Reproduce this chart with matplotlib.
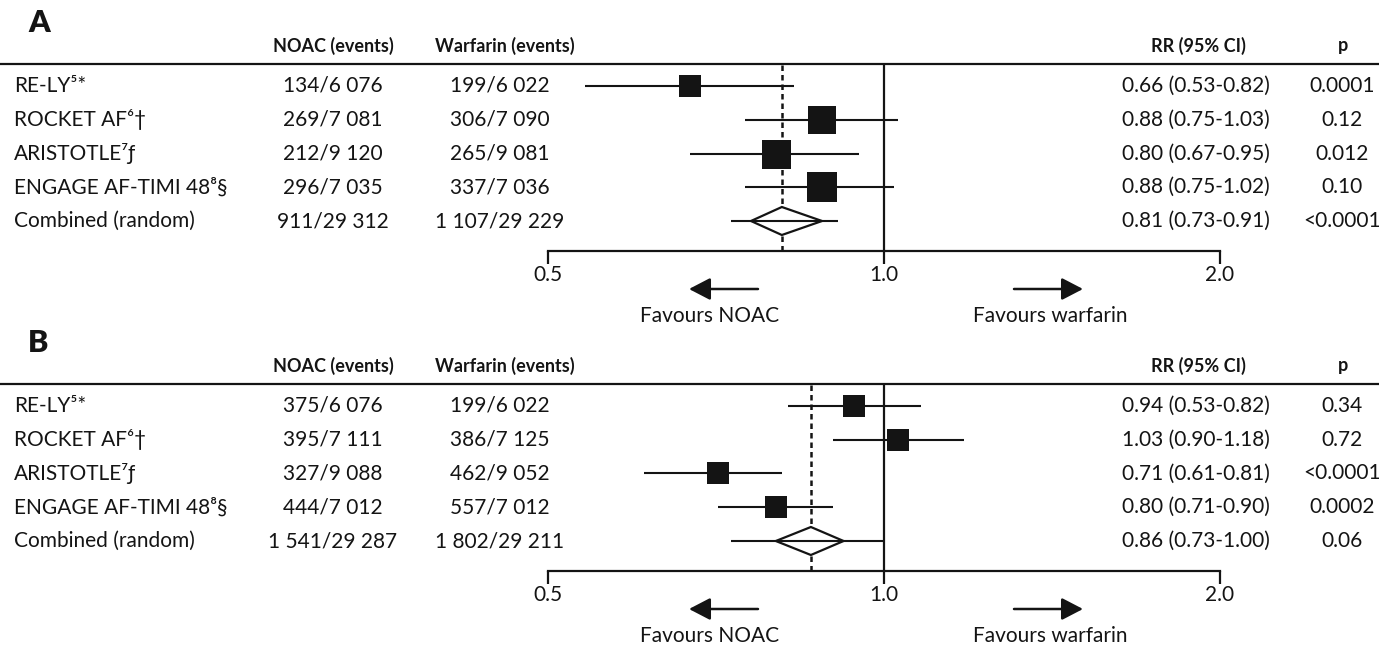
import matplotlib
matplotlib.use("Agg")
import numpy as np
import matplotlib.pyplot as plt
from matplotlib import transforms
from matplotlib.patches import Polygon, FancyArrowPatch
from matplotlib.lines import Line2D

# ---------------- data ----------------
studies = ["RE-LY\u2075*", "ROCKET AF\u2076\u2020", "ARISTOTLE\u2077\u0192",
           "ENGAGE AF-TIMI 48\u2078\u00a7", "Combined (random)"]

a_noac = ["134/6 076", "269/7 081", "212/9 120", "296/7 035", "911/29 312"]
a_warf = ["199/6 022", "306/7 090", "265/9 081", "337/7 036", "1 107/29 229"]
a_rr_text = ["0.66 (0.53-0.82)", "0.88 (0.75-1.03)", "0.80 (0.67-0.95)",
             "0.88 (0.75-1.02)", "0.81 (0.73-0.91)"]
a_p = ["0.0001", "0.12", "0.012", "0.10", "<0.0001"]
a_est = [0.67, 0.88, 0.80, 0.88, 0.81]
a_lo = [0.54, 0.75, 0.67, 0.75, 0.73]
a_hi = [0.83, 1.03, 0.95, 1.02, 0.91]
a_diamond = [0.76, 0.88]

b_noac = ["375/6 076", "395/7 111", "327/9 088", "444/7 012", "1 541/29 287"]
b_warf = ["199/6 022", "386/7 125", "462/9 052", "557/7 012", "1 802/29 211"]
b_rr_text = ["0.94 (0.53-0.82)", "1.03 (0.90-1.18)", "0.71 (0.61-0.81)",
             "0.80 (0.71-0.90)", "0.86 (0.73-1.00)"]
b_p = ["0.34", "0.72", "<0.0001", "0.0002", "0.06"]
b_est = [0.94, 1.03, 0.71, 0.80, 0.86]
b_lo = [0.82, 0.90, 0.61, 0.71, 0.73]
b_hi = [1.08, 1.18, 0.81, 0.90, 1.00]
b_diamond = [0.80, 0.92]

x_ticks = [0.5, 1.0, 2.0]
x_ticklabels = ["0.5", "1.0", "2.0"]

# ---------------- style ----------------
W, H = 1379, 645
INK = "#141414"
plt.rcParams["font.family"] = ["Lato", "DejaVu Sans"]
FS = 15
FS_HEAD = 13

fig = plt.figure(figsize=(W / 100, H / 100), dpi=100)
fig.patch.set_facecolor("white")


def fx(x):
    return x / W


def fy(y):
    return 1 - y / H


def draw_panel(label, top, noac, warf, rr_text, pvals, est, lo, hi, diamond, box_px):
    rule_y = top + 64
    axis_y = top + 251
    row0 = top + 86
    sp = 33.75
    ax = fig.add_axes([fx(548), fy(axis_y), fx(1220) - fx(548), (axis_y - rule_y) / H])
    ax.set_xscale("log", base=2)
    ax.set_xlim(0.5, 2.0)
    y_top = -(row0 - rule_y) / sp
    y_bot = y_top + (axis_y - rule_y) / sp
    ax.set_ylim(y_bot, y_top)
    ax.patch.set_alpha(0)
    for s in ["top", "left", "right"]:
        ax.spines[s].set_visible(False)
    ax.spines["bottom"].set_linewidth(1.6)
    ax.spines["bottom"].set_color(INK)
    ax.set_yticks([])
    ax.set_xticks(x_ticks)
    ax.set_xticklabels(x_ticklabels)
    ax.xaxis.set_minor_locator(matplotlib.ticker.NullLocator())
    ax.tick_params(axis="x", direction="out", length=9, width=1.6, color=INK,
                   labelsize=FS, labelcolor=INK, pad=1)

    rows = np.arange(len(est))
    # reference lines
    ax.axvline(1.0, color=INK, lw=1.6, zorder=1)
    ax.axvline(est[-1], color=INK, lw=1.8, ls=(0, (2.2, 1.6)), zorder=1)

    # studies
    for i in rows[:-1]:
        ax.hlines(i, lo[i], hi[i], color=INK, lw=1.5, zorder=2)
        ax.plot(est[i], i, marker="s", ms=box_px[i] * 0.72, color=INK,
                mec=INK, mew=0, zorder=3)
    # combined diamond
    i = rows[-1]
    h = 14 / sp
    poly = Polygon([(diamond[0], i), (est[i], i - h), (diamond[1], i), (est[i], i + h)],
                   closed=True, fc="white", ec=INK, lw=1.6, zorder=3)
    ax.add_patch(poly)
    ax.hlines(i, lo[i], hi[i], color=INK, lw=1.5, zorder=4)

    # table text
    tr = transforms.blended_transform_factory(fig.transFigure, ax.transData)
    for i in rows:
        ax.text(fx(14), i, studies[i], transform=tr, ha="left", va="center",
                fontsize=FS, color=INK, clip_on=False)
        ax.text(fx(333), i, noac[i], transform=tr, ha="center", va="center",
                fontsize=FS, color=INK, clip_on=False)
        ax.text(fx(500), i, warf[i], transform=tr, ha="center", va="center",
                fontsize=FS, color=INK, clip_on=False)
        ax.text(fx(1196), i, rr_text[i], transform=tr, ha="center", va="center",
                fontsize=FS, color=INK, clip_on=False)
        ax.text(fx(1342), i, pvals[i], transform=tr, ha="center", va="center",
                fontsize=FS, color=INK, clip_on=False)

    # headers
    hy = fy(top + 46)
    fig.text(fx(333), hy, "NOAC (events)", ha="center", va="center",
             fontsize=FS_HEAD, fontweight="bold", color=INK)
    fig.text(fx(505), hy, "Warfarin (events)", ha="center", va="center",
             fontsize=FS_HEAD, fontweight="bold", color=INK)
    fig.text(fx(1198), hy, "RR (95% CI)", ha="center", va="center",
             fontsize=FS_HEAD, fontweight="bold", color=INK)
    fig.text(fx(1343), hy, "p", ha="center", va="center",
             fontsize=FS_HEAD, fontweight="bold", color=INK)
    fig.text(fx(28), fy(top + 23), label, ha="left", va="center",
             fontsize=22, fontweight="heavy", color=INK)

    # horizontal rule
    fig.add_artist(Line2D([0, 1], [fy(rule_y)] * 2, transform=fig.transFigure,
                          color=INK, lw=1.6))

    # favour arrows
    ay = fy(top + 289)
    style = "-|>,head_length=1.0,head_width=0.52"
    fig.add_artist(FancyArrowPatch(
        (fx(758), ay), (fx(689), ay), transform=fig.transFigure,
        arrowstyle=style, mutation_scale=13, shrinkA=0, shrinkB=0,
        lw=1.8, color=INK))
    fig.add_artist(FancyArrowPatch(
        (fx(1014), ay), (fx(1083), ay), transform=fig.transFigure,
        arrowstyle=style, mutation_scale=13, shrinkA=0, shrinkB=0,
        lw=1.8, color=INK))
    fig.text(fx(710), fy(top + 316), "Favours NOAC", ha="center", va="center",
             fontsize=FS, color=INK)
    fig.text(fx(1050), fy(top + 316), "Favours warfarin", ha="center", va="center",
             fontsize=FS, color=INK)


draw_panel("A", 0, a_noac, a_warf, a_rr_text, a_p, a_est, a_lo, a_hi, a_diamond,
           [23, 28, 29, 30])
draw_panel("B", 320, b_noac, b_warf, b_rr_text, b_p, b_est, b_lo, b_hi, b_diamond,
           [22, 22, 23, 23])

fig.savefig("out.png", dpi=100, facecolor="white")
